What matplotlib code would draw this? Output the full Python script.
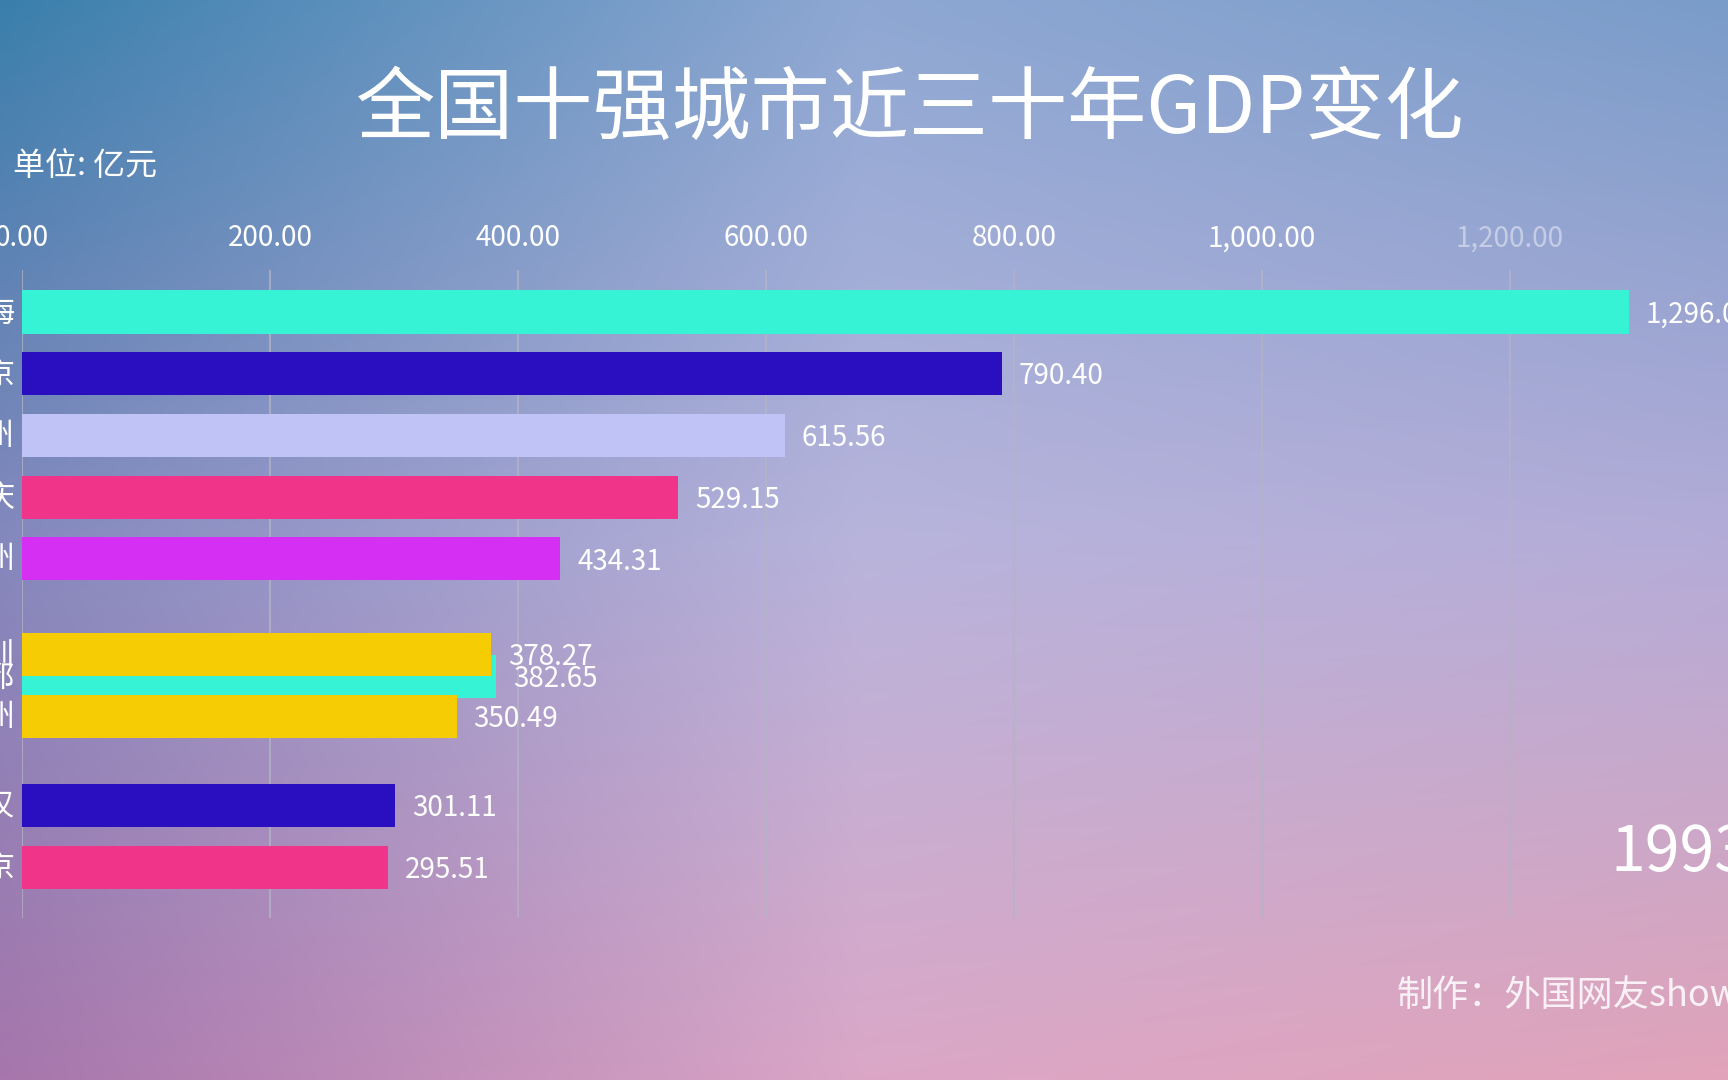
import numpy as np
import matplotlib
matplotlib.use("Agg")
import matplotlib.pyplot as plt
from matplotlib.colors import to_rgb

plt.rcParams['font.family'] = ['Noto Sans CJK SC', 'DejaVu Sans']

# ---- data (frame of the 1993 animation) ----
cities = ['上海', '北京', '广州', '重庆', '苏州', '成都', '深圳', '杭州', '武汉', '南京']
gdp = [1296.04, 790.40, 615.56, 529.15, 434.31, 382.65, 378.27, 350.49, 301.11, 295.51]
rank_pos = [1, 2, 3, 4, 5, 6.91, 6.55, 7.55, 9, 10]   # animated rank positions in this frame
bar_colors = ['#36f3d6', '#2a0fc0', '#bfc3f6', '#ef3489', '#d42ff3',
              '#36f3d6', '#f6cc04', '#f6cc04', '#2a0fc0', '#ef3489']
xticks = [0, 200, 400, 600, 800, 1000, 1200]
year = '1993'
title = '全国十强城市近三十年GDP变化'
unit = '单位: 亿元'
credit = '制作：外国网友show'

W, H, DPI = 1728, 1080, 100
fig = plt.figure(figsize=(W / DPI, H / DPI), dpi=DPI)

# ---- gradient background ----
grid_cols = [
    ['#3a7fac', '#8ea8d3', '#7a9cc9'],
    ['#8488bd', '#b8b4dc', '#b4acd8'],
    ['#a676ac', '#dba7c7', '#e1a3b9'],
]
gy, gx = np.linspace(0, 1, 3), np.linspace(0, 1, 3)
ny, nx = 270, 432
Y, X = np.linspace(0, 1, ny), np.linspace(0, 1, nx)
base = np.array([[to_rgb(c) for c in row] for row in grid_cols])
img = np.zeros((ny, nx, 3))
for ch in range(3):
    tmp = np.array([np.interp(X, gx, base[r, :, ch]) for r in range(3)])
    for j in range(nx):
        img[:, j, ch] = np.interp(Y, gy, tmp[:, j])
bg = fig.add_axes([0, 0, 1, 1], zorder=-10)
bg.imshow(img, aspect='auto', extent=[0, 1, 0, 1], interpolation='bilinear')
bg.axis('off')

# ---- main axes ----
ax = fig.add_axes([22 / W, 0.15, 1 - 22 / W, 0.60])
ax.set_facecolor('none')
ax.barh(rank_pos, gdp, height=0.70, color=bar_colors, zorder=3)
ax.set_xlim(0, 1376)
ax.set_ylim(10.82, 0.32)

for c, v, y in zip(cities, gdp, rank_pos):
    ax.annotate(f'{v:,.2f}', xy=(v, y), xytext=(12, -2), textcoords='offset points',
                ha='left', va='center', color='white', fontsize=20, zorder=4,
                annotation_clip=False)
    ax.annotate(c, xy=(0, y), xytext=(-5, -1), textcoords='offset points',
                ha='right', va='center', color='white', fontsize=22,
                annotation_clip=False)

ax.xaxis.tick_top()
ax.set_xticks(xticks)
ax.set_xticklabels([f'{t:,.2f}' for t in xticks])
ax.tick_params(axis='x', length=0, pad=12, labelsize=20, labelcolor='white')
ax.set_yticks([])
ax.xaxis.grid(True, color='#b4b4c6', linewidth=1.5, alpha=0.75, zorder=0)
ax.set_axisbelow(True)
for s in ax.spines.values():
    s.set_visible(False)
labs = ax.get_xticklabels()
labs[-1].set_alpha(0.45)

# ---- texts ----
fig.text(0.527, 0.898, title, ha='center', va='center', color='white', fontsize=57)
fig.text(0.0075, 0.846, unit, ha='left', va='center', color='white', fontsize=23)
fig.text(0.932, 0.210, year, ha='left', va='center', color='white', fontsize=45)
fig.text(0.808, 0.078, credit, ha='left', va='center', color='white', alpha=0.85, fontsize=26)

fig.savefig('out.png', dpi=DPI)
